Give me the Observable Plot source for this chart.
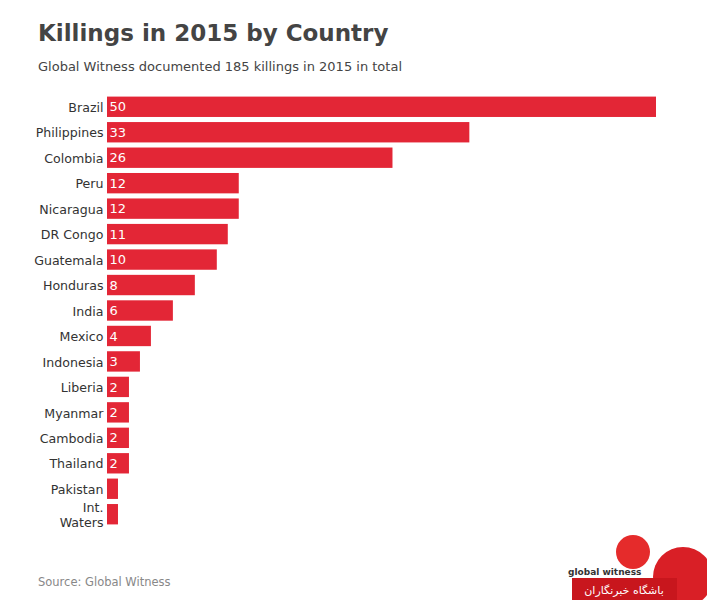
<!DOCTYPE html>
<html><head><meta charset="utf-8">
<script src="https://cdn.jsdelivr.net/npm/d3@7"></script>
<script src="https://cdn.jsdelivr.net/npm/@observablehq/plot@0.6"></script>
<style>
body{margin:0;background:#fff;font-family:"DejaVu Sans",sans-serif;}
#wrap{position:relative;width:707px;height:600px;overflow:hidden;}
#title{position:absolute;left:38px;top:20px;font-size:23px;font-weight:bold;color:#444;white-space:nowrap;}
#sub{position:absolute;left:38px;top:59px;font-size:13px;color:#444;white-space:nowrap;}
#chart{position:absolute;left:0;top:80px;}
#src{position:absolute;left:38px;top:575px;font-size:11.5px;color:#888;}
</style></head>
<body><div id="wrap">
<div id="title">Killings in 2015 by Country</div>
<div id="sub">Global Witness documented 185 killings in 2015 in total</div>
<div id="chart"></div>
<div id="src">Source: Global Witness</div>
<svg style="position:absolute;left:560px;top:530px" width="147" height="70">
  <circle cx="73" cy="22" r="17" fill="#e52b2b"/>
  <text x="8" y="45" font-size="9" font-weight="bold" fill="#333" font-family="DejaVu Sans">global witness</text>
  <circle cx="123" cy="47" r="30" fill="#d91f26"/>
  <rect x="12" y="48" width="105" height="22" fill="#c8161d"/>
  <text x="64" y="64" font-size="11" fill="#fff" text-anchor="middle" font-family="DejaVu Sans">باشگاه خبرنگاران</text>
</svg>
</div>
<script>
const countries = ["Brazil","Philippines","Colombia","Peru","Nicaragua","DR Congo","Guatemala","Honduras","India","Mexico","Indonesia","Liberia","Myanmar","Cambodia","Thailand","Pakistan","Int. Waters"];
const killings = [50,33,26,12,12,11,10,8,6,4,3,2,2,2,2,1,1];
const data = countries.map((c,i)=>({country:c, value:killings[i]}));
const fmt = d => d === "Int. Waters" ? "Int.\nWaters" : d;
const chart = Plot.plot({
  width: 707, height: 460,
  marginLeft: 107, marginRight: 51, marginTop: 11.5, marginBottom: 10.5,
  style: {fontFamily: "DejaVu Sans", fontSize: "12.6px", color: "#333", background: "#fff"},
  x: {domain: [0, 50], axis: null},
  y: {domain: countries, padding: 0.2, round: false, label: null, axis: null},
  marks: [
    Plot.barX(data, {x: "value", y: "country", fill: "#e32636"}),
    Plot.text(data.filter(d => d.value > 1), {x: 0, y: "country", text: d => String(d.value), textAnchor: "start", dx: 2, fill: "#fff", fontSize: 13}),
    Plot.axisY({tickSize: 0, tickPadding: 4, fontSize: 12.6, lineHeight: 1.15, tickFormat: fmt, label: null})
  ]
});
document.getElementById("chart").appendChild(chart);
</script>
</body></html>
